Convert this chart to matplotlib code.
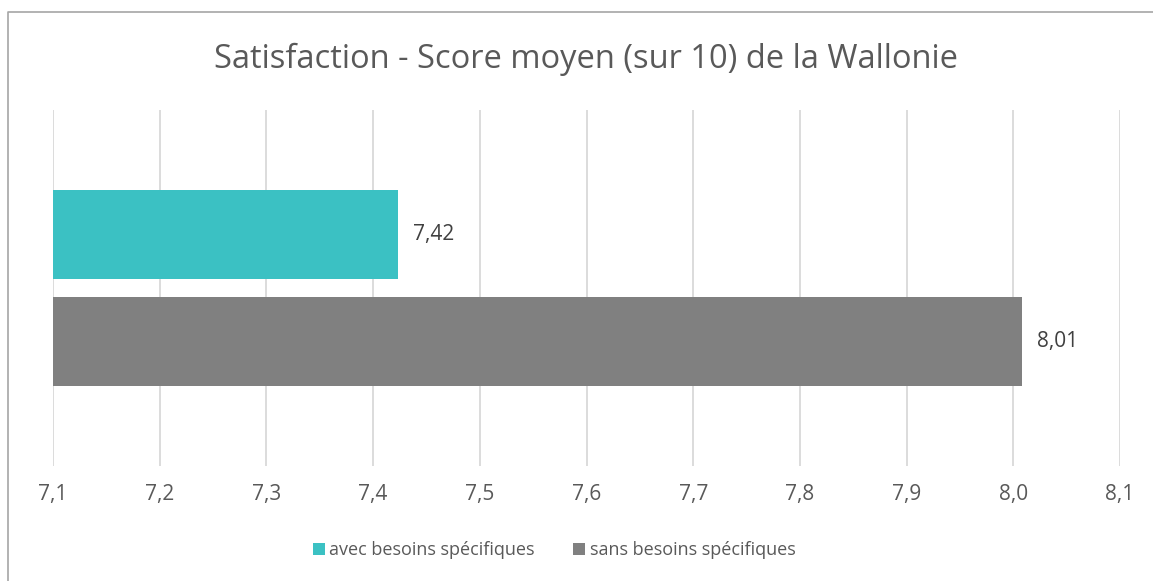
import matplotlib.pyplot as plt
from matplotlib.lines import Line2D

series = ['avec besoins spécifiques', 'sans besoins spécifiques']
scores = [7.423, 8.008]
labels = ['7,42', '8,01']
colors = ['#3BC1C3', '#808080']
xticks = [7.1, 7.2, 7.3, 7.4, 7.5, 7.6, 7.7, 7.8, 7.9, 8.0, 8.1]

plt.rcParams['font.family'] = ['Open Sans', 'DejaVu Sans']

W, H = 1153, 581
fig = plt.figure(figsize=(W / 100, H / 100), dpi=100, facecolor='white')
ax = fig.add_axes([53 / W, (H - 466) / H, (1120 - 53) / W, (466 - 110) / H])

ypos = [0.6, -0.6]
for y, s, v, c, lab in zip(ypos, series, scores, colors, labels):
    ax.barh(y, v - 7.1, left=7.1, height=1.0, color=c, label=s, zorder=3)
    ax.text(v + 0.014, y, lab, va='center', ha='left', fontsize=15, color='#404040')

ax.set_xlim(7.1, 8.1)
ax.set_ylim(-2, 2)
ax.set_xticks(xticks)
ax.set_xticklabels([f'{t:.1f}'.replace('.', ',') for t in xticks], fontsize=15, color='#595959')
ax.set_yticks([])
ax.tick_params(axis='x', length=0, pad=13)
ax.grid(axis='x', color='#D9D9D9', linewidth=1.3, zorder=0)
for sp in ax.spines.values():
    sp.set_visible(False)

fig.text(586 / W, (H - 68) / H, 'Satisfaction - Score moyen (sur 10) de la Wallonie',
         ha='center', va='baseline', fontsize=23.5, color='#595959')

handles, lbls = ax.get_legend_handles_labels()
fig.legend(handles, lbls, loc='center', bbox_to_anchor=(554 / W, (H - 550) / H), ncol=2,
           frameon=False, fontsize=13, labelcolor='#595959', handlelength=0.66,
           handleheight=0.66, handletextpad=0.27, columnspacing=2.1)

fig.add_artist(Line2D([8 / W, 8 / W, 1], [0, (H - 12) / H, (H - 12) / H],
                      transform=fig.transFigure, color='#A6A6A6', linewidth=1.2))

fig.savefig('out.png', dpi=100)
